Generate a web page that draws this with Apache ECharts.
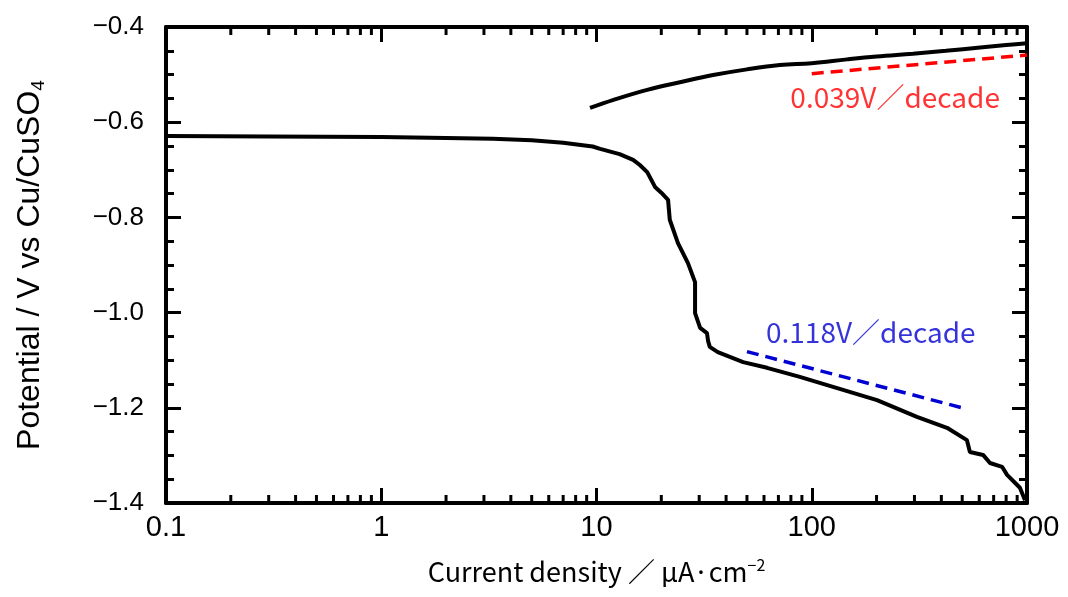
<!DOCTYPE html>
<html>
<head>
<meta charset="utf-8">
<script src="https://cdn.jsdelivr.net/npm/echarts@6/dist/echarts.min.js"></script>
<style>
  html, body { margin: 0; padding: 0; background: #fff; }
  #chart { width: 1068px; height: 597px; }
</style>
</head>
<body>
<div id="chart"></div>
<script>
// cathodic branch (current density uA/cm2, potential V)
const cathodicI = [0.1, 0.3, 1, 2, 3.3, 5, 7, 9.6, 10.4, 12.8, 14.8, 15.9, 17.2, 18.7, 20, 21.5, 21.9, 23.9, 26.6, 28.7, 28.7, 30.3, 32.6, 33.0, 33.6, 36.6, 48, 62, 88, 125.6, 201, 308, 425, 526, 543, 625, 673, 766, 808, 927, 979];
const cathodicE = [-0.629, -0.630, -0.631, -0.633, -0.635, -0.638, -0.643, -0.651, -0.656, -0.667, -0.679, -0.690, -0.705, -0.736, -0.748, -0.763, -0.805, -0.854, -0.896, -0.936, -1.001, -1.032, -1.043, -1.060, -1.072, -1.083, -1.104, -1.116, -1.135, -1.156, -1.184, -1.219, -1.242, -1.268, -1.293, -1.299, -1.316, -1.324, -1.341, -1.368, -1.394];
// anodic branch
const anodicI = [9.33, 12, 17.2, 25, 34.8, 50, 71, 100, 146, 200, 295, 420, 606, 800, 1000];
const anodicE = [-0.570, -0.553, -0.532, -0.515, -0.501, -0.489, -0.480, -0.476, -0.468, -0.462, -0.456, -0.450, -0.443, -0.438, -0.434];
// Tafel slope lines
const redI = [100, 1000];
const redE = [-0.498, -0.459];
const blueI = [50, 500];
const blueE = [-1.082, -1.200];
// annotation anchors
const redLabel = { text: '0.039V／decade', at: [244, -0.547] };
const blueLabel = { text: '0.118V／decade', at: [188, -1.041] };
// minor ticks of the log axis
const minorTicksX = [];
[0.1, 1, 10, 100].forEach(d => { for (let k = 2; k <= 9; k++) minorTicksX.push(+(d * k).toPrecision(3)); });

const zip = (a, b) => a.map((v, i) => [v, b[i]]);

const chart = echarts.init(document.getElementById('chart'));

const yFmt = v => (v < 0 ? '\u2212' : '') + Math.abs(v).toFixed(1);
const axisLine = { show: true, lineStyle: { color: '#000', width: 4 } };

const option = {
  animation: false,
  backgroundColor: '#fff',
  grid: { left: 166, right: 41, top: 27, bottom: 94 },
  xAxis: [
    {
      type: 'log', logBase: 10, min: 0.1, max: 1000, position: 'bottom',
      axisLine: axisLine,
      axisTick: { inside: true, length: 15, lineStyle: { color: '#000', width: 3 } },
      splitLine: { show: false },
      axisLabel: {
        color: '#000', fontSize: 29, fontFamily: 'Liberation Sans, Arial', margin: 10,
        formatter: v => String(+v.toPrecision(3))
      },
      name: '{t|Current density ／ μA·cm}{s|−2}',
      nameLocation: 'middle',
      nameGap: 54,
      nameTextStyle: {
        rich: {
          t: { fontSize: 27, fontFamily: 'Noto Sans CJK JP', color: '#000' },
          s: { fontSize: 16, fontFamily: 'Noto Sans CJK JP', color: '#000', verticalAlign: 'top', padding: [0, 0, 14, 0] }
        }
      }
    },
    {
      type: 'log', logBase: 10, min: 0.1, max: 1000, position: 'top',
      axisLine: axisLine,
      axisTick: { inside: true, length: 15, lineStyle: { color: '#000', width: 3 } },
      axisLabel: { show: false },
      splitLine: { show: false }
    }
  ],
  yAxis: [
    {
      type: 'value', min: -1.4, max: -0.4, interval: 0.2, position: 'left',
      axisLine: axisLine,
      axisTick: { inside: true, length: 15, lineStyle: { color: '#000', width: 3 } },
      minorTick: { show: true, splitNumber: 4, length: 8, lineStyle: { color: '#000', width: 3 } },
      splitLine: { show: false },
      axisLabel: { color: '#000', fontSize: 26, fontFamily: 'Liberation Sans, Arial', margin: 22, formatter: yFmt, showMinLabel: true, showMaxLabel: true },
      name: '{t|Potential / V vs Cu/CuSO}{s|4}',
      nameLocation: 'middle',
      nameRotate: 90,
      nameGap: 118,
      nameTextStyle: {
        rich: {
          t: { fontSize: 32, fontFamily: 'Liberation Sans, Arial', color: '#000' },
          s: { fontSize: 19, fontFamily: 'Liberation Sans, Arial', color: '#000', verticalAlign: 'bottom', padding: [16, 0, 0, 0] }
        }
      }
    },
    {
      type: 'value', min: -1.4, max: -0.4, interval: 0.2, position: 'right',
      axisLine: axisLine,
      axisTick: { inside: true, length: 15, lineStyle: { color: '#000', width: 3 } },
      minorTick: { show: true, splitNumber: 4, length: 8, lineStyle: { color: '#000', width: 3 } },
      splitLine: { show: false },
      axisLabel: { show: false }
    }
  ],
  series: [
    {
      name: 'cathodic', type: 'line', data: zip(cathodicI, cathodicE),
      showSymbol: false, lineStyle: { color: '#000', width: 4 }, z: 5
    },
    {
      name: 'anodic', type: 'line', data: zip(anodicI, anodicE), smooth: 0.4,
      showSymbol: false, lineStyle: { color: '#000', width: 4 }, z: 5
    },
    {
      name: 'red slope', type: 'line', data: zip(redI, redE),
      showSymbol: false, lineStyle: { color: '#ff0000', width: 3.5, type: [12, 7] }, z: 4
    },
    {
      name: 'blue slope', type: 'line', data: zip(blueI, blueE),
      showSymbol: false, lineStyle: { color: '#0000d0', width: 3.5, type: [12, 7] }, z: 4
    },
    {
      name: 'labels', type: 'scatter', symbolSize: 0, silent: true,
      data: [
        { value: redLabel.at, label: { formatter: redLabel.text, color: '#ff0000' } },
        { value: blueLabel.at, label: { formatter: blueLabel.text, color: '#0000d0' } }
      ],
      label: { show: true, position: 'inside', fontSize: 28, fontFamily: 'Noto Sans CJK JP' }
    },
    {
      name: 'minor x ticks', type: 'custom', silent: true, clip: false,
      data: minorTicksX.map(v => [v]),
      renderItem: (params, api) => {
        const v = api.value(0);
        const b = api.coord([v, -1.4]);
        const t = api.coord([v, -0.4]);
        const style = { stroke: '#000', lineWidth: 3 };
        return {
          type: 'group',
          children: [
            { type: 'line', shape: { x1: b[0], y1: b[1], x2: b[0], y2: b[1] - 8 }, style },
            { type: 'line', shape: { x1: t[0], y1: t[1], x2: t[0], y2: t[1] + 8 }, style }
          ]
        };
      }
    }
  ]
};

chart.setOption(option);
</script>
</body>
</html>
